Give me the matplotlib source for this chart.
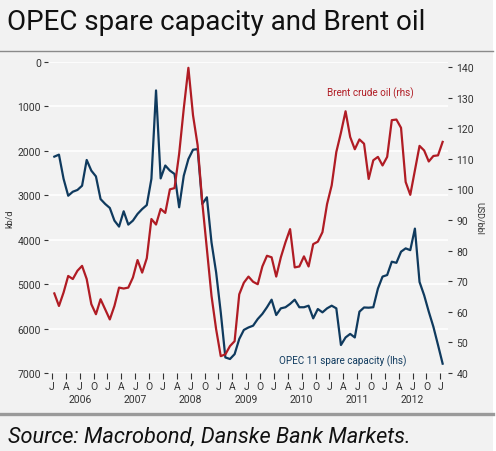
import numpy as np
import matplotlib
matplotlib.use('Agg')
import matplotlib.pyplot as plt
from matplotlib.lines import Line2D
from matplotlib.patches import Rectangle

# monthly data, Jan 2006 .. Jan 2013
opec_spare = [2130, 2085, 2630, 3010, 2920, 2880, 2785, 2205, 2445, 2575, 3085, 3195,
              3285, 3570, 3705, 3360, 3660, 3570, 3420, 3310, 3220, 2630, 640, 2620,
              2330, 2445, 2520, 3270, 2560, 2185, 1975, 1960, 3195, 3045, 4060, 4735,
              5635, 6650, 6685, 6575, 6235, 6030, 5975, 5935, 5785, 5670, 5520, 5350,
              5695, 5545, 5520, 5445, 5350, 5520, 5520, 5485, 5770, 5560, 5635, 5545,
              5485, 5545, 6370, 6200, 6120, 6200, 5620, 5525, 5530, 5520, 5100, 4830,
              4795, 4495, 4520, 4270, 4195, 4235, 3750, 4950, 5250, 5620, 5960, 6370,
              6790]
brent = [66.0, 61.9, 66.3, 71.7, 70.7, 73.4, 75.0, 70.7, 62.5, 59.2, 64.1, 60.8,
         57.5, 61.9, 67.9, 67.6, 67.9, 71.2, 76.9, 72.8, 77.5, 90.3, 88.5, 93.6,
         92.3, 100.0, 100.4, 111.6, 126.4, 139.7, 124.2, 114.4, 95.8, 80.5, 65.2, 54.3,
         45.5, 46.1, 48.8, 50.4, 65.7, 69.5, 71.5, 69.8, 69.0, 74.8, 78.3, 77.8,
         71.5, 77.8, 82.7, 87.0, 74.5, 74.8, 78.1, 74.8, 82.1, 82.9, 86.0, 95.2,
         101.3, 112.2, 118.5, 125.5, 117.1, 113.1, 116.3, 114.9, 103.4, 109.5, 110.6, 107.8,
         110.6, 122.6, 122.8, 120.1, 102.4, 98.2, 106.2, 114.2, 112.7, 109.1, 110.9, 111.1,
         115.5]
quarter_labels = ['J', 'A', 'J', 'O'] * 7 + ['J']
years = [2006, 2007, 2008, 2009, 2010, 2011, 2012]
left_ticks = [0, 1000, 2000, 3000, 4000, 5000, 6000, 7000]
right_ticks = [40, 50, 60, 70, 80, 90, 100, 110, 120, 130, 140]

BG = '#f2f2f2'
BLUE = '#0f3a5e'
RED = '#b01c24'
TXT = '#333333'

plt.rcParams['font.family'] = ['Roboto', 'DejaVu Sans']

fig = plt.figure(figsize=(4.96, 4.52), dpi=100, facecolor=BG)
ax = fig.add_axes([48 / 496, 1 - 374 / 452, 400 / 496, 311 / 452])
ax.set_facecolor(BG)
ax2 = ax.twinx()

months = np.arange(len(opec_spare)) + 0.5
ax.plot(months, opec_spare, color=BLUE, lw=1.6, zorder=3)
ax2.plot(months, brent, color=RED, lw=1.6, zorder=3)

ax.set_xlim(-0.87, 85.66)
ax.set_ylim(7000, 0)
ax2.set_ylim(40, 141.6)

ax.set_yticks(left_ticks)
ax.set_yticklabels([str(t) for t in left_ticks])
ax2.set_yticks(right_ticks)
ax.grid(axis='y', color='white', lw=1.2, zorder=0)
ax.set_axisbelow(True)

ax.set_xticks(np.arange(0, 85, 3))
ax.set_xticklabels(quarter_labels)
for a in (ax, ax2):
    for s in a.spines.values():
        s.set_visible(False)
ax.tick_params(axis='both', labelsize=7.5, colors=TXT, length=3, width=0.8, pad=2)
ax.tick_params(axis='x', length=4, pad=2)
ax2.tick_params(axis='y', labelsize=7.5, colors=TXT, length=3, width=0.8, pad=3)

for i, yr in enumerate(years):
    ax.text(6 + 12 * i, -0.085, str(yr), transform=ax.get_xaxis_transform(),
            ha='center', va='center', fontsize=7.5, color=TXT)

ax.set_ylabel('kb/d', fontsize=6.5, color=TXT, labelpad=2)
ax2.set_ylabel('USD/bbl', fontsize=6.5, color=TXT, rotation=270, labelpad=7)

fig.text(327 / 496, 1 - 93 / 452, 'Brent crude oil (rhs)', color=RED, fontsize=7.1,
         ha='left', va='center')
fig.text(279 / 496, 1 - 361 / 452, 'OPEC 11 spare capacity (lhs)', color=BLUE,
         fontsize=7.1, ha='left', va='center')

fig.text(7 / 496, 1 - 23 / 452, 'OPEC spare capacity and Brent oil', fontsize=20,
         color='#111111', ha='left', va='center')
fig.text(8 / 496, 1 - 437 / 452, 'Source: Macrobond, Danske Bank Markets.', fontsize=15.7,
         style='italic', color='#111111', ha='left', va='center')

fig.add_artist(Line2D([0, 493 / 496], [1 - 52 / 452] * 2, color='#8a8a8a', lw=1.0))
fig.add_artist(Line2D([0, 493 / 496], [1 - 415 / 452] * 2, color='#9a9a9a', lw=2.4))
fig.add_artist(Rectangle((493 / 496, 0), 3 / 496, 1, transform=fig.transFigure,
                         facecolor='white', edgecolor='none'))

fig.savefig('out.png', dpi=100, facecolor=BG)
